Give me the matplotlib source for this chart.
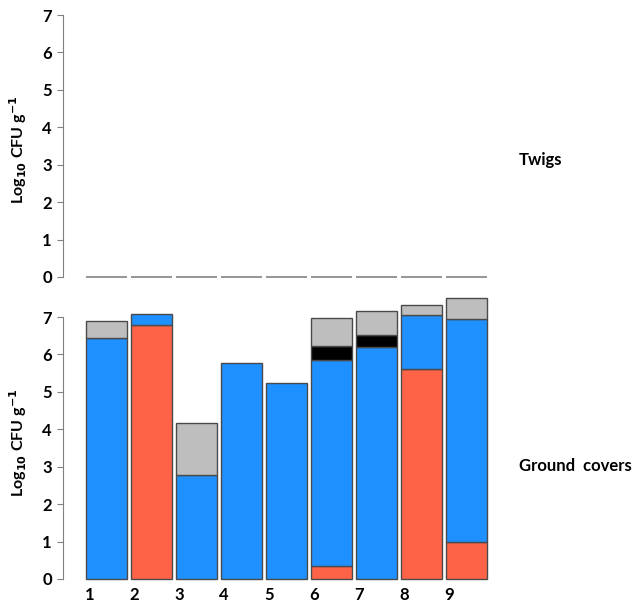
import matplotlib
matplotlib.use("Agg")
import matplotlib.pyplot as plt
import numpy as np

plt.rcParams['font.family'] = ['Lato', 'DejaVu Sans']
plt.rcParams['font.weight'] = 'bold'
plt.rcParams['mathtext.default'] = 'bf'

sites = ['1', '2', '3', '4', '5', '6', '7', '8', '9']

# twigs: nothing recovered
twigs = [0, 0, 0, 0, 0, 0, 0, 0, 0]

# ground covers, stacked segments (log10 CFU/g)
red = [0, 6.80, 0, 0, 0, 0.35, 0, 5.61, 0.98]
blue = [6.43, 0.27, 2.77, 5.76, 5.23, 5.51, 6.21, 1.44, 5.98]
black = [0, 0, 0, 0, 0, 0.38, 0.32, 0, 0]
grey = [0.47, 0, 1.41, 0, 0, 0.73, 0.64, 0.27, 0.55]

seg_colors = ['#FF6347', '#1E90FF', '#000000', '#BEBEBE']

W, H = 643, 606
fig = plt.figure(figsize=(W / 100, H / 100), dpi=100)


def px_axes(left, right, top, bottom):
    return fig.add_axes([left / W, 1 - bottom / H, (right - left) / W, (bottom - top) / H])


# barplot-like positions: width 1, space 0.1
n = len(sites)
lefts = 0.1 + 1.1 * np.arange(n)
centers = lefts + 0.5
xlim = (-0.462, 10.2)

ax_top = px_axes(63, 499, 10, 285)
ax_bot = px_axes(63, 499, 295, 584)

for ax in (ax_top, ax_bot):
    ax.set_xlim(*xlim)
    for s in ('top', 'right', 'bottom'):
        ax.spines[s].set_visible(False)
    ax.spines['left'].set_bounds(0, 7)
    ax.spines['left'].set_color('#808080')
    ax.set_yticks(range(0, 8))
    ax.tick_params(axis='y', direction='out', length=4, color='#808080',
                   labelsize=12, pad=4)
    for lab in ax.get_yticklabels():
        lab.set_fontweight('bold')

ax_top.set_ylim(-0.214, 7.134)
ax_top.bar(centers, twigs, width=1, color='none', edgecolor='#8c8c8c', linewidth=1.3)
ax_top.set_xticks([])

ax_bot.set_ylim(-0.134, 7.59)
bottom = np.zeros(n)
for vals, col in zip([red, blue, black, grey], seg_colors):
    vals = np.array(vals)
    mask = vals > 0
    ax_bot.bar(centers[mask], vals[mask], width=1, bottom=bottom[mask], color=col,
               edgecolor='#4a4a4a', linewidth=1.0)
    bottom += vals
ax_bot.set_xticks(lefts + 0.08)
ax_bot.set_xticklabels(sites, fontweight='bold', fontsize=12)
ax_bot.tick_params(axis='x', length=0, pad=2)

ylab = r'Log$_{10}$ CFU g$^{-1}$'
for yc in (150, 443):
    fig.text(18 / W, 1 - yc / H, ylab, rotation=90, ha='center', va='center',
             fontsize=11.5, fontweight='bold')

fig.text(519 / W, 1 - 160 / H, 'Twigs', ha='left', va='center', fontsize=12, fontweight='bold')
fig.text(519 / W, 1 - 466 / H, 'Ground  covers', ha='left', va='center', fontsize=12,
         fontweight='bold')

fig.savefig('out.png', dpi=100)
